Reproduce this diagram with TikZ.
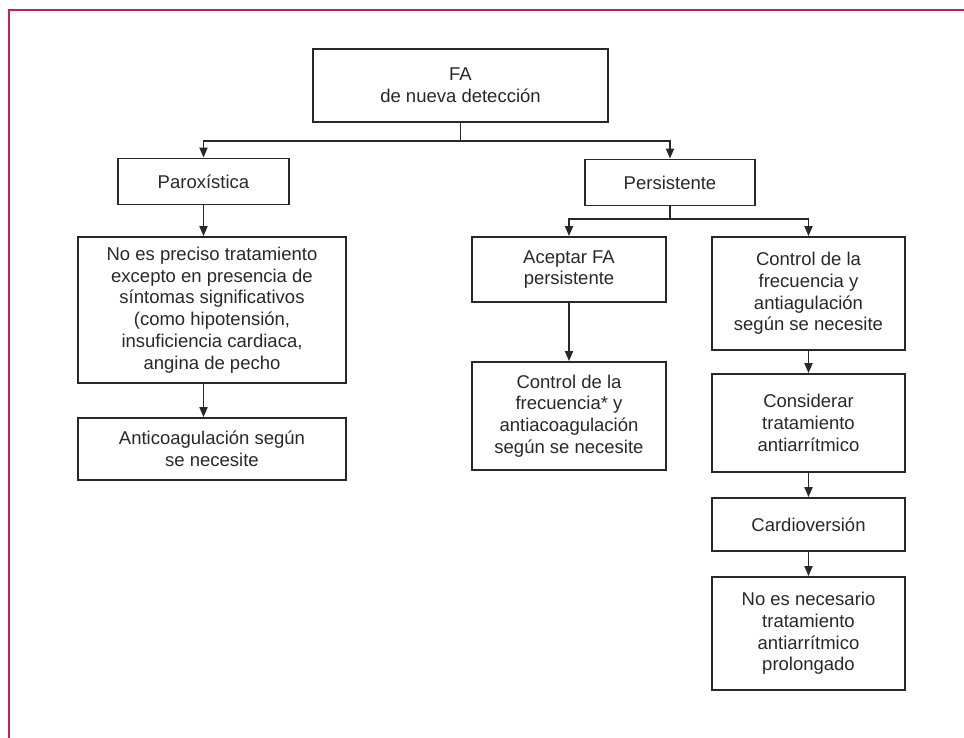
\documentclass[tikz,border=0pt]{standalone}
\usepackage{fontspec}
\setmainfont{Liberation Sans}
\usepackage{tikz}
\usetikzlibrary{arrows.meta}
\definecolor{borde}{RGB}{196,34,86}
\definecolor{linea}{RGB}{40,40,40}
\tikzset{
  caja/.style={draw=linea, line width=1.8pt, align=center, inner sep=2pt,
    font=\fontsize{18.5}{21.7}\selectfont, text=linea},
  flecha/.style={draw=linea, line width=1.8pt, -{Triangle[length=10pt,width=8pt]}}
}
\begin{document}
\begin{tikzpicture}[x=1pt,y=-1pt]
\useasboundingbox (0,0) rectangle (964,738);
\draw[borde, line width=2pt] (9,738) -- (9,10) -- (964,10);
\node[caja, minimum width=295pt, minimum height=73pt] (fa) at (460.5,85.5) {FA\\de nueva detección};
\node[caja, minimum width=171pt, minimum height=46pt] (par) at (203.5,181.5) {Paroxística};
\node[caja, minimum width=170pt, minimum height=46pt] (per) at (670,182.5) {Persistente};
\node[caja, minimum width=268pt, minimum height=146pt] (nopre) at (212,310) {No es preciso tratamiento\\excepto en presencia de\\síntomas significativos\\(como hipotensión,\\insuficiencia cardiaca,\\angina de pecho};
\node[caja, minimum width=268pt, minimum height=62pt] (anti) at (212,449) {Anticoagulación según\\se necesite};
\node[caja, minimum width=194pt, minimum height=65pt] (acep) at (569,269.5) {Aceptar FA\\persistente};
\node[caja, minimum width=194pt, minimum height=108pt] (ctrl) at (569,416) {Control de la\\frecuencia* y\\antiacoagulación\\según se necesite};
\node[caja, minimum width=193pt, minimum height=113pt] (frec) at (808.5,293.5) {Control de la\\frecuencia y\\antiagulación\\según se necesite};
\node[caja, minimum width=193pt, minimum height=98pt] (cons) at (808.5,423) {Considerar\\tratamiento\\antiarrítmico};
\node[caja, minimum width=193pt, minimum height=53pt] (card) at (808.5,524.5) {Cardioversión};
\node[caja, minimum width=193pt, minimum height=113pt] (nonec) at (808.5,633.5) {No es necesario\\tratamiento\\antiarrítmico\\prolongado};
\draw[flecha] (fa.south) -- ++(0,18) -| (par.north);
\draw[flecha] (fa.south) -- ++(0,18) -| (per.north);
\draw[flecha] (par.south) -- (par.south |- nopre.north);
\draw[flecha] (par.south |- nopre.south) -- (par.south |- anti.north);
\draw[flecha] (per.south) -- ++(0,13) -| (acep.north);
\draw[flecha] (per.south) -- ++(0,13) -| (frec.north);
\draw[flecha] (acep.south) -- (ctrl.north);
\draw[flecha] (frec.south) -- (cons.north);
\draw[flecha] (cons.south) -- (card.north);
\draw[flecha] (card.south) -- (nonec.north);
\end{tikzpicture}
\end{document}
